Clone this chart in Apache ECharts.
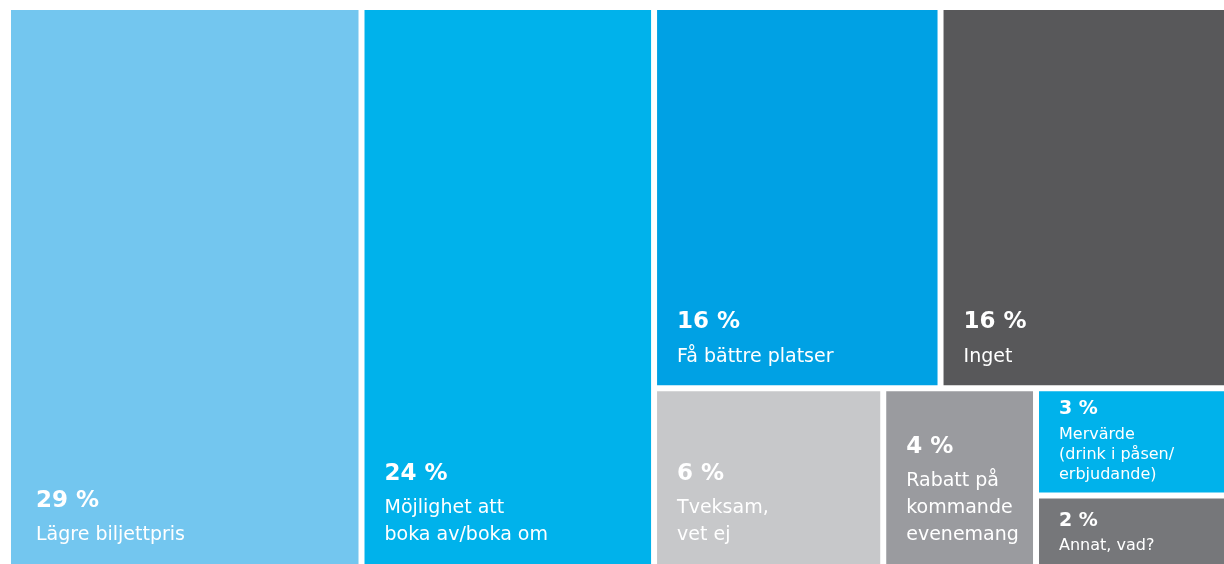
<!DOCTYPE html>
<html>
<head>
<meta charset="utf-8">
<style>
  html, body { margin: 0; padding: 0; background: #ffffff; }
  #chart { width: 1224px; height: 564px; }
</style>
<script src="https://cdn.jsdelivr.net/npm/echarts@6/dist/echarts.min.js"></script>
</head>
<body>
<div id="chart"></div>
<script>
// Answers and their shares (percent)
const answers = [
  'Lägre biljettpris',
  'Möjlighet att\nboka av/boka om',
  'Få bättre platser',
  'Inget',
  'Tveksam,\nvet ej',
  'Rabatt på\nkommande\nevenemang',
  'Mervärde\n(drink i påsen/\nerbjudande)',
  'Annat, vad?'
];
const shares = [29, 24, 16, 16, 6, 4, 3, 2];
const tileColors = ['#73c6ef', '#00b2eb', '#00a1e4', '#58585a', '#c7c8ca', '#9a9b9f', '#00b2eb', '#76777a'];

// How the tiles are grouped: columns at even depth, rows at odd depth
const nesting = [0, 1, [[2, 3], [4, 5, [6, 7]]]];

function totalOf(node) {
  return typeof node === 'number' ? shares[node] : node.reduce((s, n) => s + totalOf(n), 0);
}

// Slice-and-dice layout in axis units (0..100 on both axes)
function sliceLayout(node, x0, y0, x1, y1, depth, out) {
  if (typeof node === 'number') { out.push([x0, y0, x1, y1, node]); return; }
  const total = totalOf(node);
  let pos = depth % 2 === 0 ? x0 : y0;
  node.forEach(function (child) {
    const part = totalOf(child) / total;
    if (depth % 2 === 0) {
      const w = (x1 - x0) * part;
      sliceLayout(child, pos, y0, pos + w, y1, depth + 1, out);
      pos += w;
    } else {
      const h = (y1 - y0) * part;
      sliceLayout(child, x0, pos, x1, pos + h, depth + 1, out);
      pos += h;
    }
  });
}

const tiles = [];
sliceLayout(nesting, 0, 0, 100, 100, 0, tiles);

const FONT = '"DejaVu Sans", sans-serif';
const HALF_GAP = 3;

const chart = echarts.init(document.getElementById('chart'), null, { renderer: 'canvas' });

chart.setOption({
  animation: false,
  backgroundColor: '#ffffff',
  // the grid reaches half a gap past the outer tiles so they sit flush with the edges
  grid: { left: 8, top: 7, width: 1219, height: 560, containLabel: false, outerBoundsMode: 'none' },
  xAxis: { type: 'value', min: 0, max: 100, show: false },
  yAxis: { type: 'value', min: 0, max: 100, inverse: true, show: false },
  series: [{
    type: 'custom',
    coordinateSystem: 'cartesian2d',
    clip: false,
    data: tiles,
    encode: { x: [0, 2], y: [1, 3] },
    renderItem: function (params, api) {
      const p0 = api.coord([api.value(0), api.value(1)]);
      const p1 = api.coord([api.value(2), api.value(3)]);
      const i = api.value(4);
      const x = p0[0] + HALF_GAP;
      const y = p0[1] + HALF_GAP;
      const w = p1[0] - p0[0] - 2 * HALF_GAP;
      const h = p1[1] - p0[1] - 2 * HALF_GAP;
      const small = h < 130;
      const padX = w > 300 ? 25 : 20;
      const padY = small ? 8 : 15;
      const rich = small ? {
        p: { fontFamily: FONT, fontWeight: 'bold', fontSize: 19, lineHeight: 30, fill: '#ffffff' },
        n: { fontFamily: FONT, fontSize: 16, lineHeight: 20, fill: '#ffffff' }
      } : {
        p: { fontFamily: FONT, fontWeight: 'bold', fontSize: 23, lineHeight: 42, fill: '#ffffff' },
        n: { fontFamily: FONT, fontSize: 19, lineHeight: 27, fill: '#ffffff' }
      };
      return {
        type: 'group',
        children: [
          {
            type: 'rect',
            shape: { x: x, y: y, width: w, height: h },
            style: { fill: tileColors[i] }
          },
          {
            type: 'text',
            x: x + padX,
            y: y + h - padY,
            style: {
              text: '{p|' + shares[i] + ' %}\n{n|' + answers[i] + '}',
              rich: rich,
              align: 'left',
              verticalAlign: 'bottom',
              fill: '#ffffff'
            }
          }
        ]
      };
    }
  }]
});
</script>
</body>
</html>
